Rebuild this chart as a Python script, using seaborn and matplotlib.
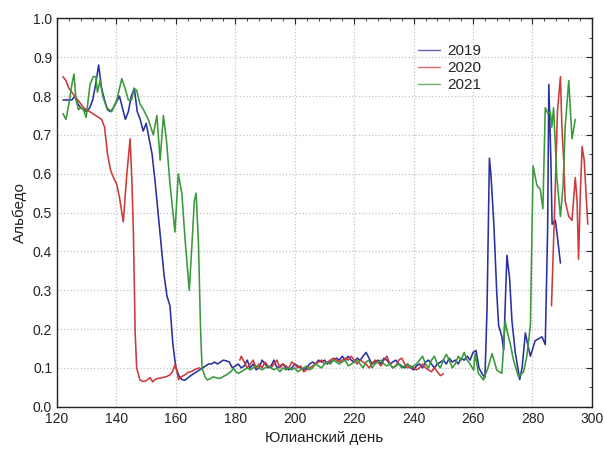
import numpy as np
import pandas as pd
import matplotlib
matplotlib.use("Agg")
import matplotlib.pyplot as plt
from matplotlib.ticker import MultipleLocator
import seaborn as sns

# ---------------- data ----------------
years = ["2019", "2020", "2021"]

days_2019 = [122,123,124,125,126,127,128,129,130,131,132,133,134,135,136,137,138,139,140,141,
             142,143,144,145,146,147,148,149,150,151,152,153,154,155,156,157,158,159,160,161,
             162,163,164,165,166,167,168,169,170,171,172,173,174,175,176,177,178,179,180,181,
             182,183,184,185,186,187,188,189,190,191,192,193,194,195,196,197,198,199,200,201,
             202,203,204,205,206,207,208,209,210,211,212,213,214,215,216,217,218,219,220,221,
             222,223,224,225,226,227,228,229,230,231,232,233,234,235,236,237,238,239,240,241,
             242,243,244,245,246,247,248,249,250,251,252,253,254,255,256,257,258,259,260,261,
             262,263,264,264.7,265.5,266,267,268,268.6,269.7,270.3,271.4,272.3,273.1,274.2,
             275.7,276.5,277.6,278.4,279.3,280.9,282,283.2,284.3,285.1,285.5,286.2,286.6,
             287.7,288.5,289.4]
alb_2019 = [0.79,0.79,0.79,0.79,0.80,0.78,0.77,0.765,0.76,0.77,0.79,0.83,0.88,0.82,0.79,0.765,0.76,0.77,0.785,0.80,
            0.77,0.74,0.76,0.80,0.82,0.76,0.74,0.71,0.73,0.69,0.65,0.58,0.50,0.42,0.34,0.285,0.26,0.16,0.10,0.08,
            0.07,0.068,0.074,0.08,0.085,0.09,0.095,0.10,0.105,0.11,0.11,0.115,0.11,0.115,0.12,0.118,0.115,0.10,0.105,0.11,
            0.10,0.105,0.12,0.10,0.11,0.095,0.10,0.12,0.11,0.10,0.105,0.12,0.10,0.105,0.11,0.10,0.095,0.10,0.11,0.105,
            0.10,0.095,0.10,0.11,0.115,0.11,0.12,0.115,0.12,0.11,0.115,0.12,0.125,0.12,0.13,0.12,0.13,0.12,0.115,0.125,
            0.12,0.13,0.14,0.125,0.11,0.115,0.12,0.11,0.125,0.12,0.11,0.115,0.12,0.11,0.105,0.10,0.11,0.10,0.095,0.105,
            0.11,0.10,0.115,0.12,0.11,0.10,0.11,0.115,0.12,0.11,0.125,0.115,0.12,0.11,0.125,0.12,0.13,0.12,0.14,0.145,
            0.10,0.085,0.075,0.25,0.64,0.60,0.47,0.29,0.21,0.18,0.145,0.39,0.33,0.22,0.14,
            0.07,0.10,0.19,0.16,0.13,0.17,0.175,0.18,0.16,0.46,0.83,0.63,0.47,
            0.48,0.43,0.37]

days_2020_a = [122,123,124,125,126,127,128,129,130,131,132,133,134,135,136,137,138,139,140,141,
               142.3,143.5,144.6,145.2,145.7,146.3,146.8,147.9,148.9,149.7,150.5,151.3,152.2,153,154,
               155,156,157,158,158.8,159.8,160.5,160.9,162,163,164,165,166,167,168]
alb_2020_a = [0.85,0.84,0.82,0.81,0.80,0.79,0.78,0.77,0.765,0.76,0.755,0.75,0.745,0.74,0.72,0.65,0.61,0.59,0.575,0.54,
              0.476,0.60,0.69,0.58,0.45,0.19,0.10,0.069,0.065,0.066,0.07,0.075,0.064,0.07,0.073,
              0.074,0.076,0.078,0.082,0.09,0.11,0.085,0.07,0.078,0.082,0.088,0.09,0.094,0.098,0.10]
days_2020_b = [181.5,182,183,184,185,186,187,188,189,190,191,192,193,194,195,196,197,198,199,200,
               201,202,203,204,205,206,207,208,209,210,211,212,213,214,215,216,217,218,219,220,
               221,222,223,224,225,226,227,228,229,230,231,232,233,234,235,236,237,238,239,240,
               241,242,243,244,245,246,247,248,249,250]
alb_2020_b = [0.12,0.13,0.115,0.10,0.11,0.12,0.10,0.11,0.10,0.115,0.105,0.10,0.11,0.12,0.10,0.11,0.105,0.10,0.115,0.11,
              0.10,0.105,0.09,0.095,0.10,0.105,0.11,0.115,0.12,0.11,0.115,0.12,0.125,0.12,0.115,0.12,0.125,0.12,0.13,0.12,
              0.11,0.12,0.115,0.11,0.10,0.11,0.12,0.115,0.105,0.12,0.13,0.11,0.10,0.105,0.12,0.125,0.11,0.10,0.105,0.10,
              0.095,0.10,0.11,0.10,0.095,0.09,0.10,0.09,0.08,0.085]
days_2020_c = [286.4,287.7,288.4,289.4,289.9,290.5,291,292.2,293.3,294.4,295,295.5,296.1,296.7,297.4,298.6]
alb_2020_c = [0.26,0.57,0.76,0.85,0.72,0.635,0.53,0.49,0.48,0.59,0.53,0.38,0.55,0.67,0.635,0.47]

days_2021 = [122,123,124,125,125.7,126.4,127.2,128,128.9,129.8,131.1,132.2,133.1,133.6,134.5,135.4,136.7,138.4,140.1,141.8,
             142.9,144,145.1,145.9,146.8,147.9,149.1,150.7,152.4,153.6,154.7,155.8,156.9,158,159.7,160.8,162,163.1,164.5,165.5,
             166.2,166.8,167.6,168.3,168.8,169.8,170.6,171.5,172.6,173.7,174.9,176,177,177.7,178.5,179.4,180.2,181,182,183,184,185,
             186,187,188,189,190,191,192,193,194,195,196,197,198,199,200,201,202,203,204,205,
             206,207,208,209,210,211,212,213,214,215,216,217,218,219,220,221,222,223,224,225,
             226,227,228,229,230,231,232,233,234,235,236,237,238,239,240,241,242,243,244,245,
             246,247,248,249,250,251,252,253,254,255,256,257,258,259,260.2,260.7,261.8,263.5,265,266.4,
             268,269.7,270.8,271.6,272.5,273.6,275.3,277,278.1,279.3,280.2,281.5,282.6,283.5,284.3,285.2,
             286,286.5,287.1,288.2,289.4,290.3,291,292.2,293.3,294.4]
alb_2021 = [0.755,0.74,0.78,0.83,0.857,0.79,0.765,0.77,0.765,0.745,0.83,0.85,0.85,0.81,0.84,0.80,0.77,0.76,0.79,0.845,
            0.82,0.79,0.79,0.82,0.815,0.78,0.765,0.74,0.70,0.75,0.635,0.75,0.68,0.575,0.45,0.60,0.55,0.43,0.30,0.43,
            0.53,0.55,0.42,0.20,0.10,0.077,0.069,0.072,0.077,0.074,0.073,0.078,0.082,0.086,0.09,0.099,0.09,0.086,0.09,0.095,0.10,0.095,
            0.10,0.105,0.10,0.095,0.10,0.105,0.10,0.095,0.10,0.09,0.10,0.095,0.10,0.095,0.10,0.09,0.095,0.10,0.105,0.095,
            0.10,0.11,0.105,0.10,0.11,0.115,0.11,0.12,0.115,0.11,0.115,0.12,0.105,0.11,0.115,0.12,0.11,0.10,0.115,0.12,
            0.10,0.11,0.115,0.12,0.11,0.105,0.11,0.10,0.105,0.11,0.10,0.105,0.11,0.10,0.105,0.11,0.12,0.13,0.11,0.10,
            0.12,0.13,0.11,0.10,0.12,0.135,0.12,0.10,0.11,0.13,0.12,0.14,0.12,0.11,0.094,0.137,0.086,0.069,0.10,0.137,
            0.094,0.086,0.22,0.19,0.163,0.12,0.077,0.09,0.13,0.21,0.62,0.57,0.56,0.51,0.77,0.755,
            0.76,0.72,0.77,0.59,0.49,0.57,0.72,0.84,0.69,0.74]

x_ticks = [120, 140, 160, 180, 200, 220, 240, 260, 280, 300]
y_ticks = [0.0, 0.1, 0.2, 0.3, 0.4, 0.5, 0.6, 0.7, 0.8, 0.9, 1.0]

# ---------------- table ----------------
parts = [
    ("2019", "a", days_2019, alb_2019),
    ("2020", "a", days_2020_a, alb_2020_a),
    ("2020", "b", days_2020_b, alb_2020_b),
    ("2020", "c", days_2020_c, alb_2020_c),
    ("2021", "a", days_2021, alb_2021),
]
frames = []
for yr, seg, d, a in parts:
    frames.append(pd.DataFrame({"day": d, "albedo": a, "year": yr, "seg": yr + seg}))
df = pd.concat(frames, ignore_index=True)

palette = {"2019": "#2b2fa0", "2020": "#cc3a3a", "2021": "#3a993a"}

sns.set_style("white")
plt.rcParams["font.family"] = ["Liberation Sans", "DejaVu Sans"]

fig = plt.figure(figsize=(6.04, 4.5), dpi=100)
ax = fig.add_axes([0.0944, 0.0962, 0.8856, 0.8628])

sns.lineplot(data=df, x="day", y="albedo", hue="year", units="seg",
             estimator=None, sort=False, palette=palette, hue_order=years,
             linewidth=1.15, ax=ax)

ax.set_xlim(120, 300)
ax.set_ylim(0, 1.0)
ax.set_xticks(x_ticks)
ax.set_xticklabels([str(t) for t in x_ticks])
ax.set_yticks(y_ticks)
ax.set_yticklabels([f"{t:.1f}" for t in y_ticks])
ax.xaxis.set_minor_locator(MultipleLocator(4))
ax.yaxis.set_minor_locator(MultipleLocator(0.05))
ax.tick_params(which="both", direction="in", top=True, right=True, labelsize=10, colors="#222222")
ax.tick_params(which="major", length=4, width=0.8)
ax.tick_params(which="minor", length=2.5, width=0.6)
ax.grid(True, which="major", linestyle=":", color="#c4c4c4", linewidth=0.9)
for s in ax.spines.values():
    s.set_color("#222222")
    s.set_linewidth(1.0)

ax.set_xlabel("Юлианский день", fontsize=11, color="#222222")
ax.set_ylabel("Альбедо", fontsize=11, color="#222222")

leg = ax.legend(loc="upper left", bbox_to_anchor=(0.6626, 0.95), frameon=False,
                fontsize=11, handlelength=1.5, handletextpad=0.45, labelspacing=0.2,
                borderaxespad=0)
for line in leg.get_lines():
    line.set_linewidth(1.0)
    line.set_alpha(0.75)

fig.savefig("out.png", dpi=100)
